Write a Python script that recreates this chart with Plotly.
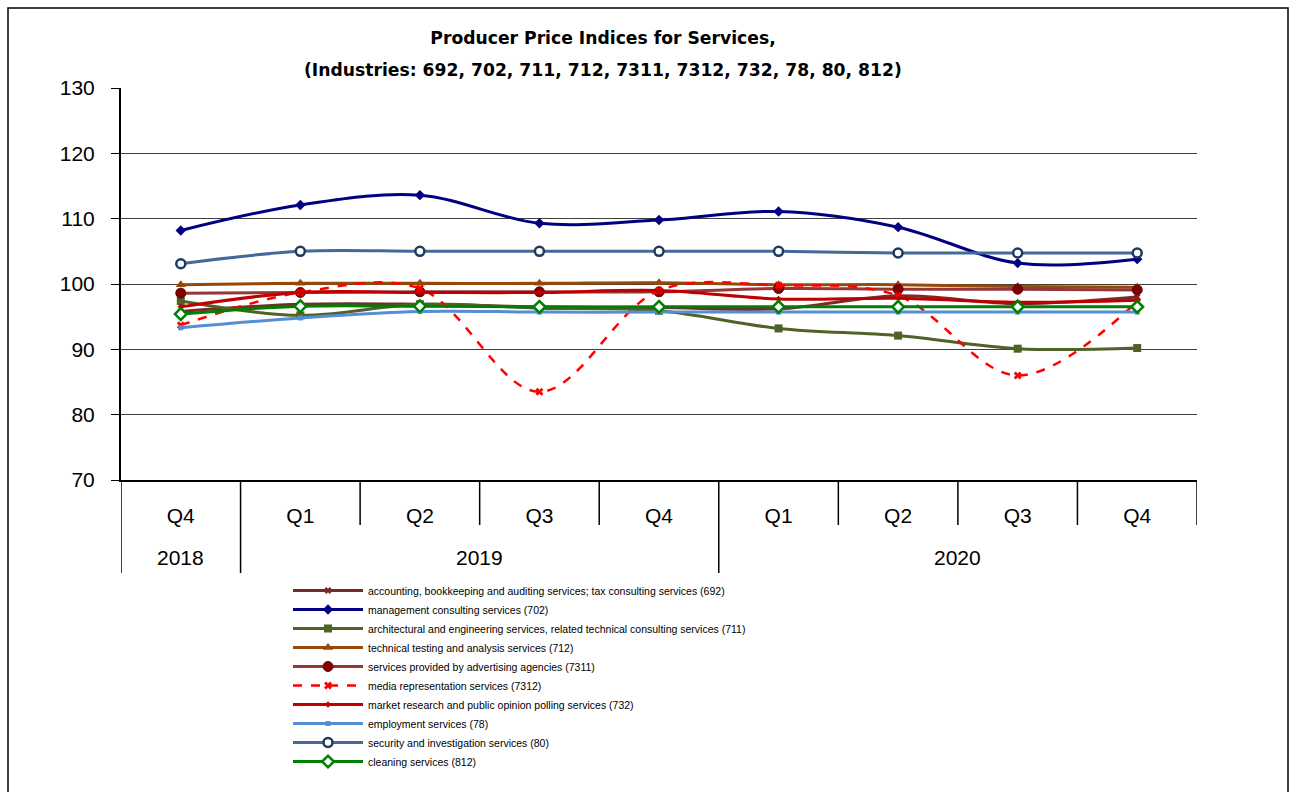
import plotly.graph_objects as go

quarters = ["Q4", "Q1", "Q2", "Q3", "Q4", "Q1", "Q2", "Q3", "Q4"]
years = ["2018", "2019", "2019", "2019", "2019", "2020", "2020", "2020", "2020"]

s692 = [95.8, 96.9, 96.9, 96.5, 96.4, 96.2, 98.2, 97.0, 98.0]
s702 = [108.2, 112.1, 113.6, 109.3, 109.8, 111.1, 108.7, 103.2, 103.8]
s711 = [97.4, 95.2, 96.9, 96.3, 95.9, 93.2, 92.1, 90.1, 90.2]
s712 = [99.9, 100.1, 100.1, 100.1, 100.2, 99.9, 99.9, 99.6, 99.5]
s7311 = [98.6, 98.7, 98.8, 98.8, 98.8, 99.3, 99.2, 99.2, 99.1]
s7312 = [93.7, 98.7, 99.3, 83.5, 99.0, 99.8, 98.2, 86.0, 97.3]
s732 = [96.5, 98.7, 98.7, 98.7, 99.0, 97.7, 97.8, 97.2, 97.5]
s78 = [93.3, 94.8, 95.8, 95.7, 95.7, 95.7, 95.7, 95.7, 95.7]
s80 = [103.1, 105.0, 105.0, 105.0, 105.0, 105.0, 104.75, 104.75, 104.75]
s812 = [95.4, 96.6, 96.6, 96.5, 96.5, 96.5, 96.5, 96.5, 96.5]

names = [
    "accounting, bookkeeping and auditing services; tax consulting services (692)",
    "management consulting services (702)",
    "architectural and engineering services, related technical consulting services (711)",
    "technical testing and analysis services (712)",
    "services provided by advertising agencies (7311)",
    "media representation services (7312)",
    "market research and public opinion polling services (732)",
    "employment services (78)",
    "security and investigation services (80)",
    "cleaning services (812)",
]

styles = [
    dict(line=dict(color="#772C2A", width=3), marker=dict(symbol="x", size=6, color="#772C2A")),
    dict(line=dict(color="#000080", width=3), marker=dict(symbol="diamond", size=8, color="#000080")),
    dict(line=dict(color="#4F6228", width=3), marker=dict(symbol="square", size=8, color="#4F6228")),
    dict(line=dict(color="#984807", width=3), marker=dict(symbol="triangle-up", size=9, color="#984807")),
    dict(line=dict(color="#953735", width=3), marker=dict(symbol="circle", size=10, color="#800000", line=dict(color="#6B0000", width=1))),
    dict(line=dict(color="#FF0000", width=2.5, dash="dash"), marker=dict(symbol="x", size=7, color="#FF0000")),
    dict(line=dict(color="#C00000", width=3), marker=dict(symbol="diamond", size=5, color="#C00000")),
    dict(line=dict(color="#558ED5", width=3), marker=dict(symbol="square", size=5, color="#558ED5")),
    dict(line=dict(color="#44699B", width=3), marker=dict(symbol="circle", size=9, color="white", line=dict(color="#1F3A5F", width=2.5))),
    dict(line=dict(color="#008000", width=3), marker=dict(symbol="diamond", size=9, color="white", line=dict(color="#008000", width=2.5))),
]

series = [s692, s702, s711, s712, s7311, s7312, s732, s78, s80, s812]
idx = list(range(len(quarters)))

fig = go.Figure()
for name, vals, st in zip(names, series, styles):
    fig.add_trace(go.Scatter(
        x=idx, y=vals, name=name, mode="lines+markers",
        line=dict(shape="spline", smoothing=1, **st["line"]),
        marker=st["marker"],
    ))

PLOT_H = 392.0
PLOT_W = 1076.0
shapes = []
# category boundary dividers below the x axis
n = len(quarters)
for b in range(n + 1):
    xb = b - 0.5
    if b == 0 or (0 < b < n and years[b] != years[b - 1]):
        depth = 93
    else:
        depth = 45
    shapes.append(dict(type="line", xref="x", yref="paper", x0=xb, x1=xb,
                       y0=0, y1=-depth / PLOT_H, line=dict(color="black", width=1.5)))
# outer frame
shapes.append(dict(type="rect", xref="paper", yref="paper",
                   x0=(8 - 121) / PLOT_W, x1=(1288 - 121) / PLOT_W,
                   y0=(480 - 800) / PLOT_H, y1=(480 - 8) / PLOT_H,
                   line=dict(color="black", width=1.5), layer="below"))

annotations = []
seen = []
for y in years:
    if y not in seen:
        seen.append(y)
for y in seen:
    pos = [i for i, v in enumerate(years) if v == y]
    annotations.append(dict(text=y, x=sum(pos) / len(pos), xref="x",
                            y=-(557 - 480) / PLOT_H, yref="paper", showarrow=False,
                            xanchor="center", yanchor="middle", font=dict(size=21)))
annotations.append(dict(
    text="<b>(Industries: 692, 702, 711, 712, 7311, 7312, 732, 78, 80, 812)</b>",
    x=(603 - 121) / PLOT_W, xref="paper", y=(480 - 70) / PLOT_H, yref="paper",
    showarrow=False, xanchor="center", yanchor="middle",
    font=dict(size=17.2, family="DejaVu Sans, sans-serif")))

fig.update_layout(
    width=1296, height=792,
    paper_bgcolor="white", plot_bgcolor="white",
    margin=dict(l=121, r=99, t=88, b=312),
    font=dict(family="Liberation Sans, Arial, sans-serif", color="black"),
    title=dict(
        text="<b>Producer Price Indices for Services,</b>",
        x=603 / 1296, xanchor="center", xref="container",
        y=1 - 38 / 792, yanchor="middle", yref="container",
        font=dict(size=17.2, family="DejaVu Sans, sans-serif"),
    ),
    showlegend=True,
    legend=dict(
        x=(288 - 121) / PLOT_W, xanchor="left",
        y=(480 - 676) / PLOT_H, yanchor="middle",
        font=dict(size=10.5), itemwidth=70,
        tracegroupgap=0, bgcolor="rgba(0,0,0,0)",
    ),
    shapes=shapes,
    annotations=annotations,
)

fig.update_yaxes(
    range=[70, 130], dtick=10, showgrid=True, gridcolor="#404040", gridwidth=1,
    showline=True, linecolor="black", linewidth=2, ticks="outside", ticklen=8,
    tickcolor="black", tickfont=dict(size=21), zeroline=False, ticklabelstandoff=12,
)
fig.update_xaxes(
    range=[-0.5, n - 0.5], tickvals=idx, ticktext=quarters,
    showline=True, linecolor="black", linewidth=2, ticks="",
    tickfont=dict(size=21), showgrid=False, zeroline=False, ticklabelstandoff=16,
)

fig.write_html("out.html", config={"displayModeBar": False},
               post_script="document.body.style.margin='0px';")
